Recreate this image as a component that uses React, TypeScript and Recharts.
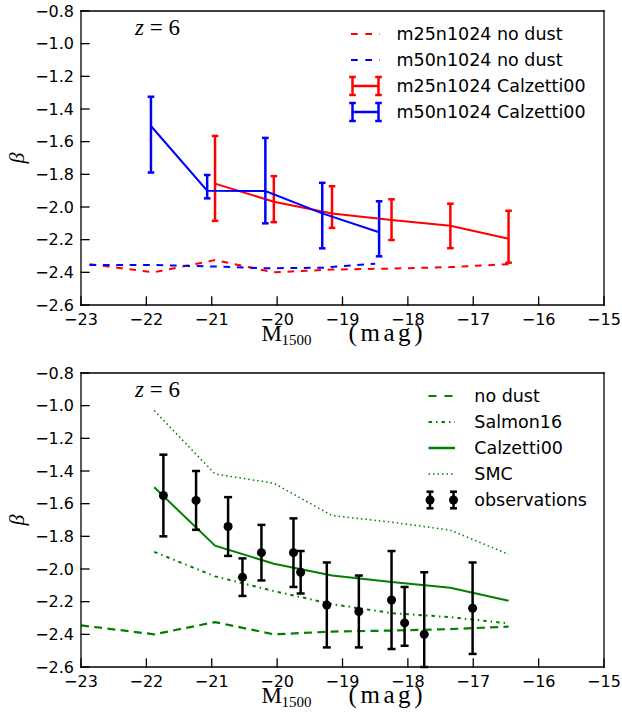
import React from 'react';
import { ComposedChart, Line, Scatter, XAxis, YAxis, ErrorBar, Legend } from 'recharts';

// axes
const magTicks = [-23, -22, -21, -20, -19, -18, -17, -16, -15];
const betaTicks = [-2.6, -2.4, -2.2, -2.0, -1.8, -1.6, -1.4, -1.2, -1.0, -0.8];

// m25n1024, Calzetti00 (median with lower / upper spread)
const m25Mag = [-20.95, -20.05, -19.16, -18.25, -17.35, -16.46];
const m25Beta = [-1.857, -1.968, -2.04, -2.08, -2.115, -2.194];
const m25Lo = [0.228, 0.125, 0.088, 0.122, 0.137, 0.147];
const m25Hi = [0.292, 0.157, 0.167, 0.127, 0.135, 0.171];

// m50n1024, Calzetti00
const m50Mag = [-21.93, -21.07, -20.18, -19.31, -18.44];
const m50Beta = [-1.504, -1.9, -1.902, -2.039, -2.155];
const m50Lo = [0.285, 0.047, 0.198, 0.214, 0.147];
const m50Hi = [0.179, 0.096, 0.325, 0.187, 0.19];

// intrinsic slopes without dust
const m25NoDustMag = [-22.87, -21.89, -20.95, -20.05, -19.16, -18.25, -17.35, -16.46];
const m25NoDustBeta = [-2.35, -2.4, -2.325, -2.4, -2.383, -2.377, -2.368, -2.35];
const m50NoDustMag = [-22.87, -21.93, -21.07, -20.18, -19.31, -18.5];
const m50NoDustBeta = [-2.355, -2.355, -2.363, -2.375, -2.372, -2.347];

// combined runs, different attenuation curves
const dustMag = [-21.88, -20.95, -20.05, -19.16, -18.25, -17.35, -16.46];
const calzettiBeta = [-1.5, -1.857, -1.968, -2.04, -2.08, -2.115, -2.194];
const salmonBeta = [-1.895, -2.045, -2.135, -2.215, -2.27, -2.295, -2.333];
const smcBeta = [-1.03, -1.418, -1.475, -1.673, -1.713, -1.762, -1.91];
const noDustMag = [-23.0, -21.88, -20.95, -20.05, -19.16, -18.25, -17.35, -16.46];
const noDustBeta = [-2.345, -2.4, -2.325, -2.4, -2.383, -2.377, -2.368, -2.353];

// observed z~6 UV slopes (lower bar of the -17.75 point stops at the frame)
const obsMag = [-21.74, -21.24, -20.75, -20.53, -20.24, -19.75, -19.64, -19.24, -18.75, -18.25, -18.05, -17.75, -17.01];
const obsBeta = [-1.55, -1.58, -1.74, -2.05, -1.9, -1.9, -2.02, -2.22, -2.26, -2.19, -2.33, -2.4, -2.24];
const obsLo = [0.25, 0.18, 0.18, 0.115, 0.17, 0.21, 0.13, 0.26, 0.22, 0.3, 0.14, 0.2, 0.28];
const obsHi = [0.25, 0.18, 0.18, 0.115, 0.17, 0.21, 0.13, 0.26, 0.22, 0.3, 0.22, 0.38, 0.28];

type Pt = { x: number; y: number; e?: [number, number] };

const pts = (xs: number[], ys: number[], lo?: number[], hi?: number[]): Pt[] =>
    xs.map((x, i) => ({ x, y: ys[i], e: lo && hi ? [lo[i], hi[i]] : undefined }));

const W = 622;
const H = 360;
const MARGIN = { top: 10, right: 17, bottom: 0, left: 0 };
const INK = '#000000';
const RED = '#ff0000';
const BLUE = '#0000ff';
const GREEN = '#008000';
const SANS = "'DejaVu Sans', Verdana, sans-serif";
const SERIF = "'Liberation Serif', 'DejaVu Serif', serif";

const minus = (s: string) => s.replace('-', '\u2212');
const fmtMag = (v: number) => minus(String(v));
const fmtBeta = (v: number) => minus(v.toFixed(1));

const frame = { stroke: INK, strokeWidth: 1.3, strokeLinecap: 'square' as const };
const tickFont = { fill: INK, fontSize: 16, fontFamily: SANS };

// x title: roman M with a 1500 subscript, then (mag)
function MagTitle({ viewBox }: any) {
    const { x, y, width } = viewBox;
    const cx = x + width / 2;
    const base = y + 35.5;
    return (
        <g fill={INK}>
            <text x={cx - 81} y={base} style={{ fontFamily: SERIF, fontSize: '23px' }}>M</text>
            <text x={cx - 61} y={base + 4} style={{ fontFamily: SERIF, fontSize: '15px' }}>1500</text>
            <text x={cx + 6} y={base} style={{ fontFamily: SERIF, fontSize: '25px' }} textLength={74} lengthAdjust="spacing">
                (mag)
            </text>
        </g>
    );
}

function BetaTitle({ viewBox }: any) {
    const { y, height } = viewBox;
    const cy = y + height / 2;
    return (
        <text
            x={16}
            y={cy}
            transform={`rotate(-90 16 ${cy})`}
            textAnchor="middle"
            dominantBaseline="central"
            style={{ fontFamily: SERIF, fontStyle: 'italic', fontSize: '22px' }}
            fill={INK}
        >
            β
        </text>
    );
}

function RedshiftTag({ viewBox }: any) {
    const { x, y } = viewBox;
    return (
        <text x={x + 54} y={y + 25} style={{ fontFamily: SERIF, fontSize: '23px' }} fill={INK}>
            <tspan style={{ fontStyle: 'italic' }}>z</tspan>
            <tspan> = 6</tspan>
        </text>
    );
}

function frameAxes() {
    return [
        <XAxis
            key="xb"
            dataKey="x"
            type="number"
            domain={[-23, -15]}
            ticks={magTicks}
            allowDataOverflow
            height={55}
            tickSize={-8}
            tickMargin={17}
            tick={tickFont}
            tickFormatter={fmtMag}
            axisLine={frame}
            tickLine={frame}
            label={<MagTitle />}
        />,
        <XAxis
            key="xt"
            xAxisId="top"
            orientation="top"
            type="number"
            domain={[-23, -15]}
            ticks={magTicks}
            height={1}
            tickSize={-8}
            tick={false}
            axisLine={frame}
            tickLine={frame}
            label={<RedshiftTag />}
        />,
        <YAxis
            key="yl"
            type="number"
            domain={[-2.6, -0.8]}
            ticks={betaTicks}
            allowDataOverflow
            width={81}
            tickSize={-8}
            tickMargin={15}
            tick={tickFont}
            tickFormatter={fmtBeta}
            axisLine={frame}
            tickLine={frame}
            label={<BetaTitle />}
        />,
        <YAxis
            key="yr"
            yAxisId="right"
            orientation="right"
            type="number"
            domain={[-2.6, -0.8]}
            ticks={betaTicks}
            width={1}
            tickSize={-8}
            tick={false}
            axisLine={frame}
            tickLine={frame}
        />,
    ];
}

type KeyRow = {
    label: string;
    color: string;
    kind: 'line' | 'err' | 'obs';
    dash?: string;
    width?: number;
};

function ErrGlyph({ x, y, half, color, cap }: { x: number; y: number; half: number; color: string; cap: number }) {
    return (
        <g stroke={color} strokeWidth={2.5}>
            <line x1={x} x2={x} y1={y - half} y2={y + half} />
            <line x1={x - cap} x2={x + cap} y1={y - half} y2={y - half} />
            <line x1={x - cap} x2={x + cap} y1={y + half} y2={y + half} />
        </g>
    );
}

function Key({ rows, x0, x1, textX, y0, step }: { rows: KeyRow[]; x0: number; x1: number; textX: number; y0: number; step: number }) {
    return (
        <svg width={W} height={y0 + step * rows.length} style={{ display: 'block', overflow: 'visible' }}>
            {rows.map((r, i) => {
                const y = y0 + i * step;
                let glyph = null;
                if (r.kind === 'line') {
                    glyph = (
                        <line x1={x0} x2={x1} y1={y} y2={y} stroke={r.color} strokeWidth={r.width ?? 2} strokeDasharray={r.dash} />
                    );
                } else if (r.kind === 'err') {
                    glyph = (
                        <g>
                            <line x1={x0 + 1} x2={x1 - 1} y1={y} y2={y} stroke={r.color} strokeWidth={2.5} />
                            <ErrGlyph x={x0 + 1.5} y={y} half={9} color={r.color} cap={3.3} />
                            <ErrGlyph x={x1 - 1.5} y={y} half={9} color={r.color} cap={3.3} />
                        </g>
                    );
                } else {
                    glyph = (
                        <g>
                            {[x0 + 1.5, x1 - 1.5].map((cx) => (
                                <g key={cx}>
                                    <ErrGlyph x={cx} y={y} half={8.3} color={r.color} cap={3.5} />
                                    <circle cx={cx} cy={y} r={4.5} fill={r.color} />
                                </g>
                            ))}
                        </g>
                    );
                }
                return (
                    <g key={r.label}>
                        {glyph}
                        <text x={textX} y={y} dominantBaseline="central" fontFamily={SANS} fontSize={17.5} fill={INK}>
                            {r.label}
                        </text>
                    </g>
                );
            })}
        </svg>
    );
}

const topRows: KeyRow[] = [
    { label: 'm25n1024 no dust', color: RED, kind: 'line', dash: '6.7 7.6' },
    { label: 'm50n1024 no dust', color: BLUE, kind: 'line', dash: '6.7 7.6' },
    { label: 'm25n1024 Calzetti00', color: RED, kind: 'err' },
    { label: 'm50n1024 Calzetti00', color: BLUE, kind: 'err' },
];

const bottomRows: KeyRow[] = [
    { label: 'no dust', color: GREEN, kind: 'line', dash: '8 8' },
    { label: 'Salmon16', color: GREEN, kind: 'line', dash: '3.5 4 1.5 4' },
    { label: 'Calzetti00', color: GREEN, kind: 'line', width: 2.5 },
    { label: 'SMC', color: GREEN, kind: 'line', dash: '1.5 3', width: 1.5 },
    { label: 'observations', color: INK, kind: 'obs' },
];

function SimulationPanel() {
    return (
        <ComposedChart width={W} height={H} margin={MARGIN}>
            {frameAxes()}
            <Line data={pts(m25NoDustMag, m25NoDustBeta)} dataKey="y" stroke={RED} strokeWidth={2} strokeDasharray="6.7 6.7" dot={false} isAnimationActive={false} />
            <Line data={pts(m50NoDustMag, m50NoDustBeta)} dataKey="y" stroke={BLUE} strokeWidth={2} strokeDasharray="6.7 6.7" dot={false} isAnimationActive={false} />
            <Line data={pts(m25Mag, m25Beta, m25Lo, m25Hi)} dataKey="y" stroke={RED} strokeWidth={2} dot={false} isAnimationActive={false}>
                <ErrorBar dataKey="e" direction="y" stroke={RED} strokeWidth={2.5} width={3.3} />
            </Line>
            <Line data={pts(m50Mag, m50Beta, m50Lo, m50Hi)} dataKey="y" stroke={BLUE} strokeWidth={2} dot={false} isAnimationActive={false}>
                <ErrorBar dataKey="e" direction="y" stroke={BLUE} strokeWidth={2.5} width={3.3} />
            </Line>
            <Legend
                layout="vertical"
                align="center"
                verticalAlign="middle"
                wrapperStyle={{ left: 0, top: 0 }}
                content={() => <Key rows={topRows} x0={351} x1={380} textX={396.5} y0={34} step={26} />}
            />
        </ComposedChart>
    );
}

function AttenuationPanel() {
    return (
        <ComposedChart width={W} height={H} margin={MARGIN}>
            {frameAxes()}
            <Line data={pts(noDustMag, noDustBeta)} dataKey="y" stroke={GREEN} strokeWidth={2.2} strokeDasharray="8 5.3" dot={false} isAnimationActive={false} />
            <Line data={pts(dustMag, salmonBeta)} dataKey="y" stroke={GREEN} strokeWidth={2} strokeDasharray="3.5 4 1.5 4" dot={false} isAnimationActive={false} />
            <Line data={pts(dustMag, calzettiBeta)} dataKey="y" stroke={GREEN} strokeWidth={2} dot={false} isAnimationActive={false} />
            <Line data={pts(dustMag, smcBeta)} dataKey="y" stroke={GREEN} strokeWidth={1.5} strokeDasharray="1.5 3" dot={false} isAnimationActive={false} />
            <Scatter data={pts(obsMag, obsBeta, obsLo, obsHi)} dataKey="y" fill={INK} isAnimationActive={false}>
                <ErrorBar dataKey="e" direction="y" stroke={INK} strokeWidth={2.5} width={4} />
            </Scatter>
            <Legend
                layout="vertical"
                align="center"
                verticalAlign="middle"
                wrapperStyle={{ left: 0, top: 0 }}
                content={() => <Key rows={bottomRows} x0={428.5} x1={455} textX={474.3} y0={34} step={26} />}
            />
        </ComposedChart>
    );
}

export default function App() {
    return (
        <div style={{ position: 'absolute', left: 0, top: 0, width: W, height: 720, background: '#ffffff' }}>
            <div style={{ position: 'absolute', left: 0, top: 0 }}>
                <SimulationPanel />
            </div>
            <div style={{ position: 'absolute', left: 0, top: 362 }}>
                <AttenuationPanel />
            </div>
        </div>
    );
}
